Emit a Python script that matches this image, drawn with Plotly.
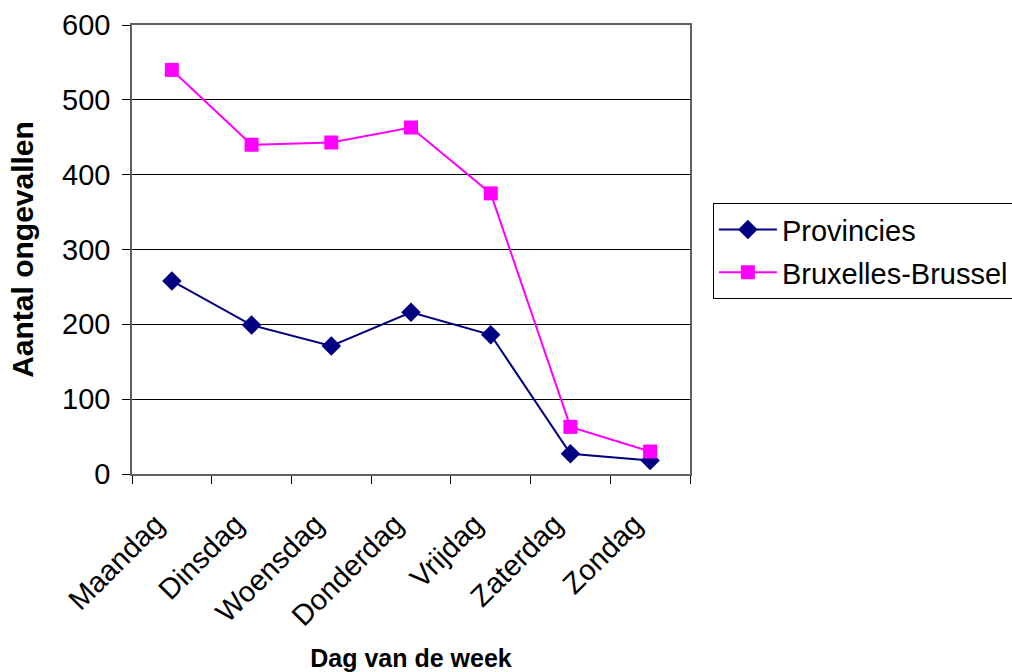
import plotly.graph_objects as go

# Weekday categories and accident counts per region
dagen = ["Maandag", "Dinsdag", "Woensdag", "Donderdag", "Vrijdag", "Zaterdag", "Zondag"]
provincies = [258, 199, 171, 216, 186, 27, 18]
brussel = [540, 440, 443, 463, 375, 63, 30]

FONT = "Liberation Sans, Arial, sans-serif"

fig = go.Figure()
fig.add_trace(go.Scatter(
    x=dagen, y=provincies, name="Provincies", mode="lines+markers",
    line=dict(color="#000080", width=2),
    marker=dict(symbol="diamond", size=15, color="#000080"),
    legendgroup="a",
))
fig.add_trace(go.Scatter(
    x=dagen, y=brussel, name="Bruxelles-Brussel", mode="lines+markers",
    line=dict(color="#FF00FF", width=2),
    marker=dict(symbol="square", size=14, color="#FF00FF"),
    legendgroup="b",
))

fig.update_layout(
    width=1012, height=672,
    margin=dict(l=132, r=322, t=25, b=198, autoexpand=False),
    paper_bgcolor="white", plot_bgcolor="white",
    font=dict(family=FONT, size=29, color="black"),
    legend=dict(
        x=1.041, y=0.603, xanchor="left", yanchor="top",
        bordercolor="black", borderwidth=1,
        font=dict(size=29), tracegroupgap=2,
        itemwidth=58,
    ),
)
fig.update_xaxes(
    type="category", range=[-0.5, 6.5],
    tickangle=-45, ticks="outside", tickson="boundaries", ticklen=8,
    tickcolor="black", showgrid=False, ticklabelstandoff=20, ticklabelshift=-16,
    showline=True, linecolor="#606060", linewidth=1.5, mirror=True,
    title=dict(text="<b>Dag van de week</b>", standoff=18, font=dict(size=25)),
)
fig.update_yaxes(
    range=[0, 600], dtick=100, ticks="outside", ticklen=8, tickcolor="black",
    showgrid=True, gridcolor="black", gridwidth=1,
    ticklabelstandoff=6,
    showline=True, linecolor="#606060", linewidth=1.5, mirror=True,
    zeroline=False,
    title=dict(text="<b>Aantal ongevallen</b>", standoff=20, font=dict(size=30)),
)

fig.write_html("out.html")
